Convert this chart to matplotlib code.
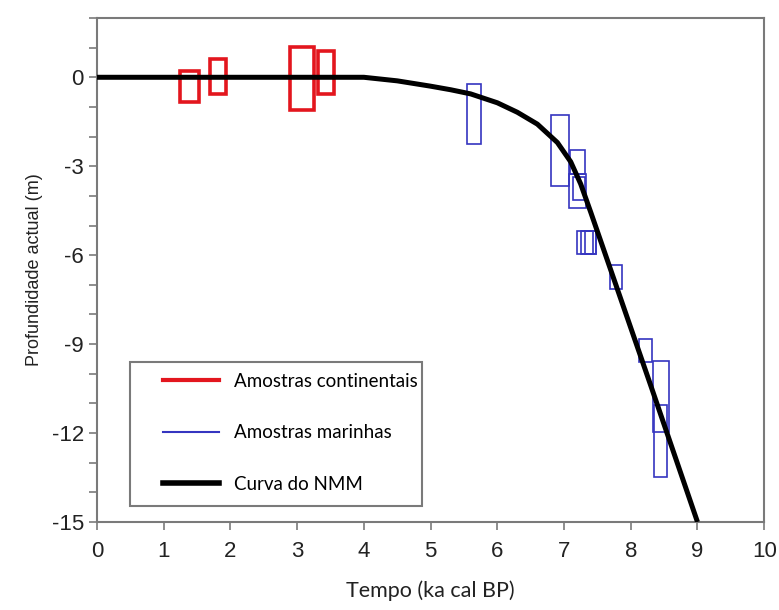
import matplotlib
matplotlib.use("Agg")
import matplotlib.pyplot as plt
from matplotlib.patches import Rectangle
from matplotlib.lines import Line2D

plt.rcParams["axes.unicode_minus"] = False

# Continental samples (rectangles): x range (ka) and depth range (m)
cont_x0 = [1.25, 1.70, 2.89, 3.31]
cont_x1 = [1.53, 1.93, 3.25, 3.55]
cont_y0 = [-0.84, -0.56, -1.12, -0.56]
cont_y1 = [0.20, 0.63, 1.02, 0.88]

# Marine samples (rectangles)
mar_x0 = [5.54, 6.81, 7.09, 7.07, 7.14, 7.19, 7.25, 7.31, 7.69, 8.12, 8.34, 8.35]
mar_x1 = [5.76, 7.08, 7.32, 7.33, 7.31, 7.43, 7.48, 7.48, 7.87, 8.32, 8.58, 8.54]
mar_y0 = [-2.25, -3.67, -3.27, -4.40, -4.14, -5.97, -5.97, -5.97, -7.15, -9.62, -11.95, -13.49]
mar_y1 = [-0.21, -1.28, -2.46, -3.27, -3.36, -5.18, -5.18, -5.18, -6.33, -8.83, -9.56, -11.05]

# Sea-level curve (NMM)
curve_t = [0.0, 4.0, 4.5, 5.0, 5.3, 5.6, 6.0, 6.3, 6.6, 6.9, 7.1, 7.25, 7.4, 7.7, 8.3, 9.0]
curve_d = [0.0, 0.0, -0.12, -0.3, -0.42, -0.56, -0.86, -1.18, -1.58, -2.2, -2.85, -3.6, -4.55, -6.5, -10.4, -15.0]

legend_labels = ["Amostras continentais", "Amostras marinhas", "Curva do NMM"]

red = "#e3161e"
blue = "#3535c0"
spine_col = "#7a7a7a"

fig = plt.figure(figsize=(7.79, 6.10), dpi=100)
ax = fig.add_axes([0.1245, 0.1443, 0.8565, 0.8262])

for x0, x1, y0, y1 in zip(cont_x0, cont_x1, cont_y0, cont_y1):
    ax.add_patch(Rectangle((x0, y0), x1 - x0, y1 - y0, fill=False,
                           edgecolor=red, linewidth=2.6, zorder=2))
for x0, x1, y0, y1 in zip(mar_x0, mar_x1, mar_y0, mar_y1):
    ax.add_patch(Rectangle((x0, y0), x1 - x0, y1 - y0, fill=False,
                           edgecolor=blue, linewidth=1.2, zorder=2))

ax.plot(curve_t, curve_d, color="black", linewidth=3.6, zorder=3,
        solid_capstyle="butt", solid_joinstyle="round")

ax.set_xlim(0, 10)
ax.set_ylim(-15, 2)
ax.set_xticks(range(0, 11))
ax.set_yticks([-15, -12, -9, -6, -3, 0])
ax.set_yticks(range(-15, 3), minor=True)

for s in ax.spines.values():
    s.set_color(spine_col)
    s.set_linewidth(1.5)

ax.tick_params(axis="both", which="both", direction="out", color=spine_col,
               width=1.2)
ax.tick_params(axis="both", which="major", length=6, labelsize=16,
               labelcolor="#222222")
ax.tick_params(axis="y", which="minor", length=6)
ax.tick_params(axis="x", pad=8)
for lbl in ax.get_xticklabels() + ax.get_yticklabels():
    lbl.set_family("Liberation Sans")

ax.set_xlabel("Tempo (ka cal BP)", fontsize=15.5, family="Lato", labelpad=13,
              color="#222222")
ax.set_ylabel("Profundidade actual (m)", fontsize=13, family="Liberation Sans",
              labelpad=6, color="#222222")

# legend frame drawn separately for exact placement
ax.add_patch(Rectangle((0.0495, 0.0317), 0.4375, 0.2853, transform=ax.transAxes,
                       fill=True, facecolor="white", edgecolor=spine_col,
                       linewidth=1.5, zorder=4))
handles = [
    Line2D([], [], color=red, linewidth=3.0),
    Line2D([], [], color=blue, linewidth=1.5),
    Line2D([], [], color="black", linewidth=4.0),
]
leg = ax.legend(handles, legend_labels, loc="center left",
                bbox_to_anchor=(0.099, 0.177), frameon=False,
                prop={"family": "Lato", "size": 13.5}, handlelength=3.0,
                handletextpad=0.8, labelspacing=1.85, borderpad=0,
                borderaxespad=0)
leg.set_zorder(5)

fig.savefig("out.png", dpi=100, facecolor="white")
